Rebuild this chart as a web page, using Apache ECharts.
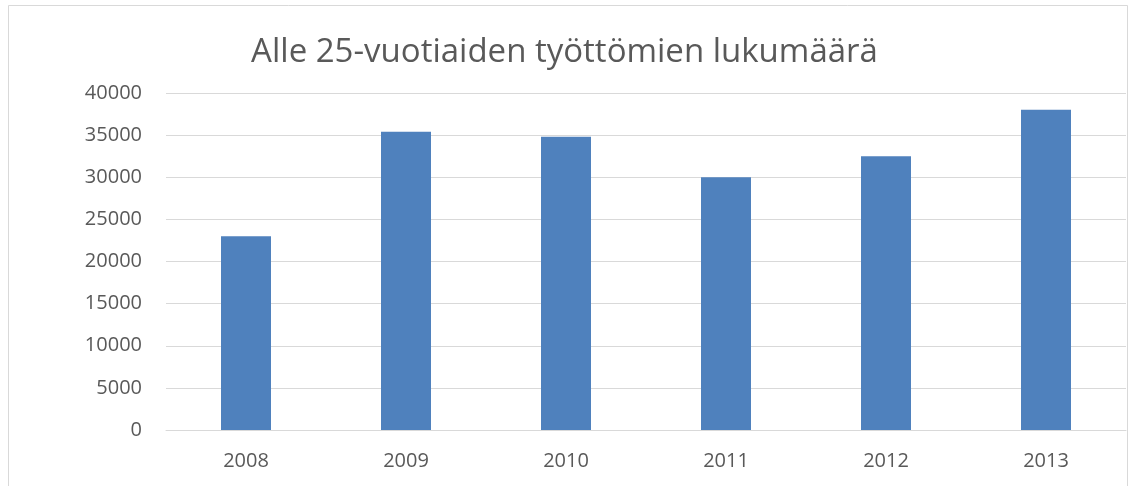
<!DOCTYPE html>
<html>
<head>
<meta charset="utf-8">
<script src="https://cdn.jsdelivr.net/npm/echarts@6/dist/echarts.min.js"></script>
<style>
  html, body { margin: 0; padding: 0; background: #fff; }
  #chart { width: 1129px; height: 486px; }
</style>
</head>
<body>
<div id="chart"></div>
<script>
// data
var years = ['2008', '2009', '2010', '2011', '2012', '2013'];
var unemployed = [23000, 35400, 34800, 30000, 32500, 38000];
var titleText = 'Alle 25-vuotiaiden työttömien lukumäärä';

var myChart = echarts.init(document.getElementById('chart'));

var option = {
    backgroundColor: '#fff',
    animation: false,
    title: {
        text: titleText,
        left: 'center',
        top: 31,
        textStyle: {
            fontFamily: 'Open Sans',
            fontWeight: 'normal',
            fontSize: 33,
            color: '#595959'
        }
    },
    // thin frame round the chart area, like the spreadsheet chart
    graphic: [{
        type: 'rect',
        shape: { x: 8.5, y: 5.5, width: 1119, height: 500 },
        style: { fill: 'none', stroke: '#D9D9D9', lineWidth: 1 },
        silent: true
    }],
    grid: {
        left: 166,
        right: 3,
        top: 93,
        bottom: 56
    },
    xAxis: {
        type: 'category',
        data: years,
        axisTick: { show: false },
        axisLine: { lineStyle: { color: '#D9D9D9', width: 1 } },
        axisLabel: {
            margin: 21,
            fontFamily: 'Open Sans',
            fontSize: 20,
            color: '#595959'
        }
    },
    yAxis: {
        type: 'value',
        min: 0,
        max: 40000,
        interval: 5000,
        axisLine: { show: false },
        axisTick: { show: false },
        splitLine: { lineStyle: { color: '#D9D9D9', width: 1 } },
        axisLabel: {
            margin: 24,
            fontFamily: 'Open Sans',
            fontSize: 20,
            color: '#595959',
            formatter: function (v) { return String(v); }
        }
    },
    series: [{
        type: 'bar',
        data: unemployed,
        barWidth: 50,
        itemStyle: { color: '#4F81BD' }
    }]
};

myChart.setOption(option);
</script>
</body>
</html>
